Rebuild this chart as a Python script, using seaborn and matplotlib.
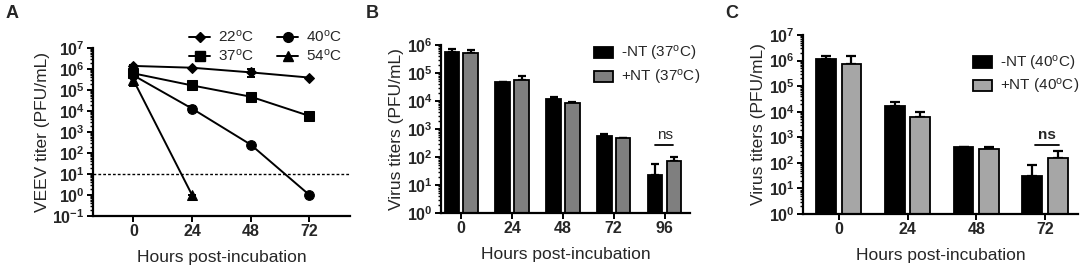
import numpy as np
import pandas as pd
import matplotlib
matplotlib.use("Agg")
import matplotlib.pyplot as plt
import seaborn as sns
from matplotlib.ticker import FuncFormatter, LogLocator, FixedLocator
from matplotlib.lines import Line2D

# panel A: titer over time at four temperatures
hours_a = [0, 24, 48, 72]
temps = ["22", "37", "40", "54"]
titer_22 = [1.4e6, 1.15e6, 6.9e5, 3.9e5]
err_22 = [1.0e5, 0, 2.8e5, 0]
titer_37 = [6.2e5, 1.65e5, 4.8e4, 5.8e3]
err_37 = [1.5e5, 2.0e4, 6e3, 6e2]
titer_40 = [5.0e5, 1.3e4, 2.5e2, 1.0]
err_40 = [1.0e5, 4.5e3, 30, 0]
titer_54 = [3.0e5, 1.0]
err_54 = [1.5e5, 0]
lod = 10

# panel B: 37C, -NT vs +NT
hours_b = ["0", "24", "48", "72", "96"]
minus_b = [5.8e5, 4.7e4, 1.15e4, 575, 23]
minus_b_err = [1.2e5, 0, 2.5e3, 70, 33]
plus_b = [5.0e5, 5.6e4, 8.7e3, 465, 74]
plus_b_err = [1.5e5, 2.0e4, 300, 20, 28]

# panel C: 40C, -NT vs +NT
hours_c = ["0", "24", "48", "72"]
minus_c = [1.15e6, 1.6e4, 410, 31]
minus_c_err = [4.0e5, 8.0e3, 0, 54]
plus_c = [7.1e5, 6.2e3, 350, 156]
plus_c_err = [8.0e5, 3.3e3, 60, 126]

sns.set_theme(style="ticks")
plt.rcParams["font.family"] = ["Liberation Sans", "DejaVu Sans"]
plt.rcParams["mathtext.fontset"] = "custom"
plt.rcParams["mathtext.rm"] = "Liberation Sans"
plt.rcParams["mathtext.bf"] = "Liberation Sans:bold"
plt.rcParams["mathtext.it"] = "Liberation Sans:italic"

DEG = r"$^\mathrm{o}$C"
YTICK_FS = 11.5
XTICK_FS = 11.5
LAB_FS = 12.5
LEG_FS = 11


def pow_fmt(v, pos):
    return r"$\mathbf{10^{%d}}$" % round(np.log10(v))


def style_axis(ax):
    for s in ["top", "right"]:
        ax.spines[s].set_visible(False)
    for s in ["left", "bottom"]:
        ax.spines[s].set_linewidth(1.6)
        ax.spines[s].set_color("black")
    ax.yaxis.set_major_locator(LogLocator(base=10, numticks=30))
    ax.yaxis.set_major_formatter(FuncFormatter(pow_fmt))
    ax.yaxis.set_minor_locator(LogLocator(base=10, subs=np.arange(2, 10), numticks=50))
    ax.tick_params(axis="both", which="major", length=4, width=1.4, color="black", pad=2)
    ax.tick_params(axis="y", which="major", labelsize=YTICK_FS)
    ax.tick_params(axis="x", which="major", labelsize=XTICK_FS)
    ax.tick_params(axis="y", which="minor", length=2.2, width=1.0, color="black")
    for t in ax.get_xticklabels():
        t.set_fontweight("bold")
    ax.grid(False)


fig = plt.figure(figsize=(10.84, 2.73), dpi=100)
axA = fig.add_axes([0.0858, 0.2088, 0.2371, 0.6154])
axB = fig.add_axes([0.4068, 0.2198, 0.2297, 0.6154])
axC = fig.add_axes([0.7408, 0.2161, 0.2537, 0.6557])

# ---------- A ----------
rows = []
series = [titer_22, titer_37, titer_40, titer_54]
for t, vals in zip(temps, series):
    for h, v in zip(hours_a, vals):
        rows.append({"hours": h, "titer": v, "temp": t})
dfa = pd.DataFrame(rows)
marks = {"22": "D", "37": "s", "40": "o", "54": "^"}
sizes = {"22": 5, "37": 7, "40": 7, "54": 7}
for t in temps:
    sub = dfa[dfa.temp == t]
    sns.lineplot(data=sub, x="hours", y="titer", ax=axA, color="black", lw=1.4,
                 marker=marks[t], markersize=sizes[t], markeredgecolor="black",
                 errorbar=None, legend=False, zorder=3)
errs = [err_22, err_37, err_40, err_54]
for t, vals, e in zip(temps, series, errs):
    x = hours_a[:len(vals)]
    low = [min(ee, v * 0.6) for v, ee in zip(vals, e)]
    axA.errorbar(x, vals, yerr=[low, e], fmt="none", ecolor="black",
                 elinewidth=1.4, capsize=3, capthick=1.4, zorder=2)
axA.axhline(lod, color="black", ls=(0, (2, 1.5)), lw=1.0, zorder=1)
axA.set_yscale("log")
axA.set_ylim(0.1, 1e7)
axA.set_xlim(-16.5, 88.6)
axA.xaxis.set_major_locator(FixedLocator(hours_a))
axA.set_xlabel("Hours post-incubation", fontsize=LAB_FS, labelpad=8)
axA.set_ylabel("VEEV titer (PFU/mL)", fontsize=LAB_FS, labelpad=2)
style_axis(axA)
handles = [Line2D([], [], color="black", lw=1.4, marker=marks[t], markersize=sizes[t])
           for t in temps]
axA.legend(handles, [t + DEG for t in temps], ncol=2, frameon=False, fontsize=LEG_FS,
           loc="upper left", bbox_to_anchor=(0.35, 1.15), handlelength=1.4,
           handletextpad=0.5, columnspacing=1.5, labelspacing=0.2, borderaxespad=0)


# ---------- B / C ----------
def bar_panel(ax, hours, minus, minus_err, plus, plus_err, temp, gray, cap):
    df = pd.DataFrame({
        "hours": hours * 2,
        "titer": minus + plus,
        "group": ["-NT (%s)" % (temp + DEG)] * len(hours) + ["+NT (%s)" % (temp + DEG)] * len(hours),
    })
    sns.barplot(data=df, x="hours", y="titer", hue="group", ax=ax,
                palette=["black", gray], width=0.74, gap=0.22, edgecolor="black",
                linewidth=1.3, errorbar=None, zorder=2)
    ax.set_yscale("log")
    for cont, e in zip(ax.containers, [minus_err, plus_err]):
        xs = [b.get_x() + b.get_width() / 2 for b in cont]
        ys = [b.get_height() for b in cont]
        ax.errorbar(xs, ys, yerr=[np.zeros(len(e)), e], fmt="none", ecolor="black",
                    elinewidth=1.6, capsize=cap, capthick=1.6, zorder=1)
    h, l = ax.get_legend_handles_labels()
    ax.legend(h, l, frameon=False, fontsize=LEG_FS, handlelength=1.25,
              handleheight=0.75, handletextpad=0.55, labelspacing=0.3,
              loc="upper left", borderaxespad=0)
    ax.set_xlabel("Hours post-incubation", fontsize=LAB_FS, labelpad=8)
    ax.set_ylabel("Virus titers (PFU/mL)", fontsize=LAB_FS, labelpad=2)
    style_axis(ax)
    return ax


bar_panel(axB, hours_b, minus_b, minus_b_err, plus_b, plus_b_err, "37", "#7f7f7f", 3)
axB.set_ylim(1, 1e6)
axB.set_xlim(-0.4, 4.5)
axB.get_legend().set_bbox_to_anchor((0.59, 1.04))
axB.plot([3.82, 4.17], [270, 270], color="black", lw=1.3)
axB.text(4.0, 330, "ns", ha="center", va="bottom", fontsize=LEG_FS)

bar_panel(axC, hours_c, minus_c, minus_c_err, plus_c, plus_c_err, "40", "#a6a6a6", 3.5)
axC.set_ylim(1, 1e7)
axC.set_xlim(-0.52, 3.48)
axC.get_legend().set_bbox_to_anchor((0.595, 0.93))
axC.plot([2.86, 3.2], [520, 520], color="black", lw=1.3)
axC.text(3.03, 650, "ns", ha="center", va="bottom", fontsize=LEG_FS, fontweight="bold")

for x, s in [(0.005, "A"), (0.337, "B"), (0.669, "C")]:
    fig.text(x, 0.98, s, fontsize=13, fontweight="bold", va="top", ha="left")

fig.savefig("out.png", dpi=100)
